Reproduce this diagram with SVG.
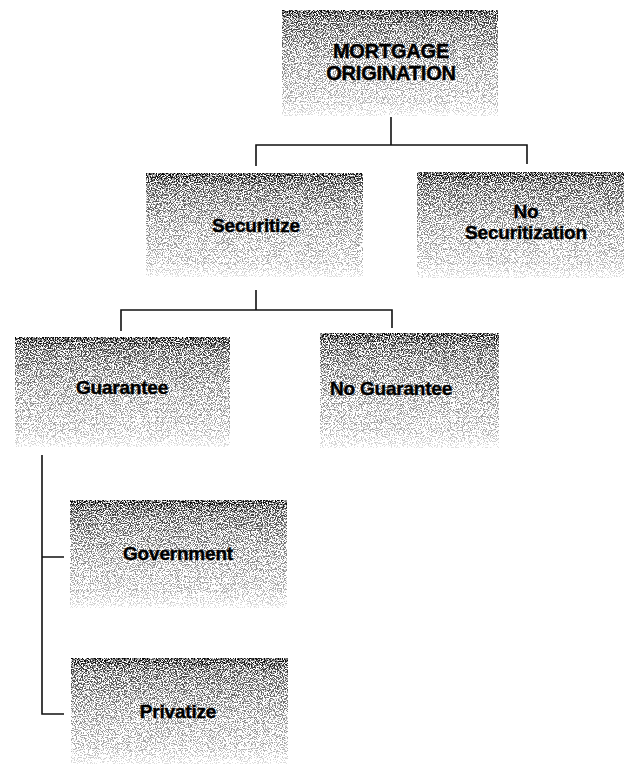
<svg xmlns="http://www.w3.org/2000/svg" width="624" height="765" viewBox="0 0 624 765">
  <defs>
    <linearGradient id="shade" x1="0" y1="0" x2="0" y2="1">
      <stop offset="0" stop-color="#707070"/>
      <stop offset="0.12" stop-color="#949494"/>
      <stop offset="0.5" stop-color="#b8b8b8"/>
      <stop offset="0.85" stop-color="#d2d2d2"/>
      <stop offset="1" stop-color="#eeeeee"/>
    </linearGradient>
    <filter id="grain" x="0" y="0" width="1" height="1" color-interpolation-filters="sRGB">
      <feTurbulence type="fractalNoise" baseFrequency="0.85" numOctaves="2" seed="7" result="t"/>
      <feColorMatrix in="t" type="matrix" values="2.5 0 0 0 -0.472  2.5 0 0 0 -0.472  2.5 0 0 0 -0.472  0 0 0 0 1" result="n"/>
      <feComposite in="SourceGraphic" in2="n" operator="arithmetic" k1="0" k2="1.8" k3="-1.8" k4="1"/>
    </filter>
  </defs>
  <style>
    .box { fill: url(#shade); filter: url(#grain); }
    .lbl { font-family: "Liberation Sans", Arial, Helvetica, sans-serif; font-weight: bold; font-size: 19px; fill: #000; stroke: #000; stroke-width: 0.4; text-anchor: middle; letter-spacing: -0.2px; }
    .big { font-size: 20px; }
    .conn { fill: none; stroke: #111; stroke-width: 1.6; }
  </style>

  <g id="connectors" class="conn">
    <path d="M391 117 V145 M256 166 V145 H527 V164"/>
    <path d="M256 290 V310 M121 331 V310 H392 V328"/>
    <path d="M42 455 V714 H64 M42 557 H64"/>
  </g>

  <g id="mortgage-origination">
    <rect class="box" x="282" y="10" width="216" height="106"/>
    <text class="lbl big" x="391" y="58">MORTGAGE</text>
    <text class="lbl big" x="391" y="80">ORIGINATION</text>
  </g>

  <g id="securitize">
    <rect class="box" x="146" y="173" width="217" height="104"/>
    <text class="lbl" x="256" y="232">Securitize</text>
  </g>

  <g id="no-securitization">
    <rect class="box" x="417" y="172" width="207" height="106"/>
    <text class="lbl" x="526" y="218">No</text>
    <text class="lbl" x="526" y="239">Securitization</text>
  </g>

  <g id="guarantee">
    <rect class="box" x="15" y="337" width="215" height="110"/>
    <text class="lbl" x="122" y="394">Guarantee</text>
  </g>

  <g id="no-guarantee">
    <rect class="box" x="320" y="333" width="179" height="115"/>
    <text class="lbl" x="391" y="395">No Guarantee</text>
  </g>

  <g id="government">
    <rect class="box" x="70" y="500" width="217" height="108"/>
    <text class="lbl" x="178" y="560">Government</text>
  </g>

  <g id="privatize">
    <rect class="box" x="71" y="658" width="217" height="106"/>
    <text class="lbl" x="178" y="718">Privatize</text>
  </g>
</svg>
